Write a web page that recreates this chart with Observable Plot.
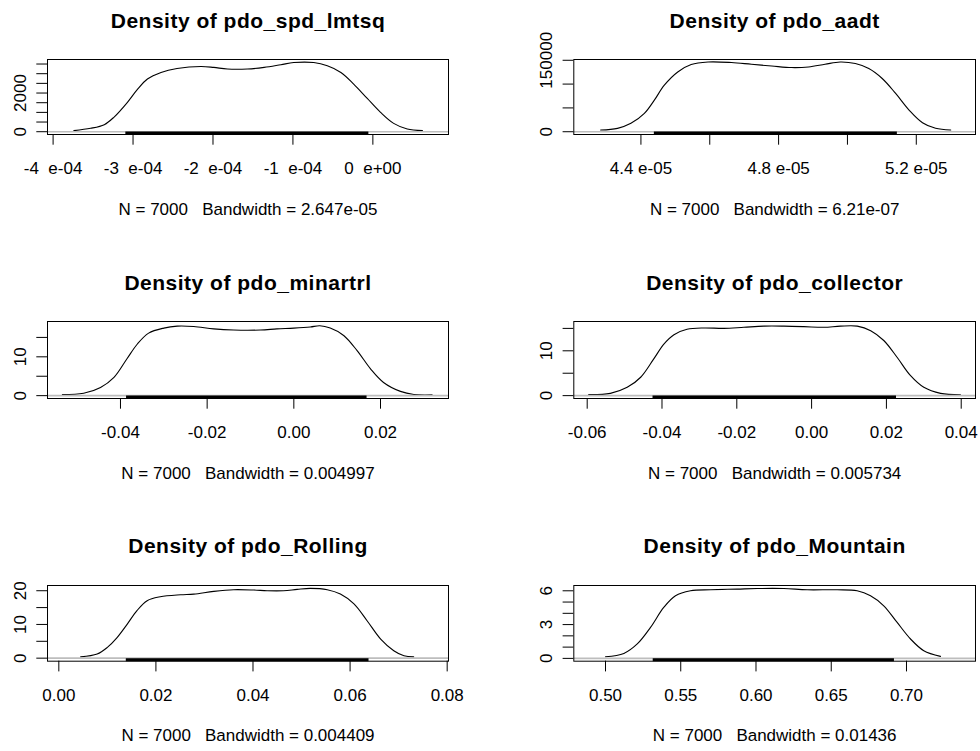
<!DOCTYPE html>
<html>
<head>
<meta charset="utf-8">
<script src="https://cdn.jsdelivr.net/npm/d3@7"></script>
<script src="https://cdn.jsdelivr.net/npm/@observablehq/plot@0.6"></script>
<style>
  html, body { margin: 0; padding: 0; background: #fff; overflow: hidden; }
  #root { position: relative; width: 980px; height: 751px; }
  #root > div { position: absolute; }
  svg text { white-space: pre; }
  svg g[font-weight="bold"] text { letter-spacing: 0.5px; }
</style>
</head>
<body>
<div id="root"></div>
<script>
// ---------- Data ----------
const titles = [
  "Density of pdo_spd_lmtsq", "Density of pdo_aadt",
  "Density of pdo_minartrl", "Density of pdo_collector",
  "Density of pdo_Rolling", "Density of pdo_Mountain"
];
const subtitles = [
  "N = 7000   Bandwidth = 2.647e-05", "N = 7000   Bandwidth = 6.21e-07",
  "N = 7000   Bandwidth = 0.004997", "N = 7000   Bandwidth = 0.005734",
  "N = 7000   Bandwidth = 0.004409", "N = 7000   Bandwidth = 0.01436"
];

// pdo_spd_lmtsq
const spdX = [-3.74e-4, -3.53e-4, -3.36e-4, -3.24e-4, -3.07e-4, -2.95e-4, -2.82e-4, -2.65e-4, -2.45e-4, -2.15e-4, -1.99e-4, -1.82e-4, -1.57e-4, -1.36e-4, -1.15e-4, -0.99e-4, -0.74e-4, -0.57e-4, -0.40e-4, -0.24e-4, -0.07e-4, 0.096e-4, 0.26e-4, 0.43e-4, 0.62e-4];
const spdY = [55, 175, 365, 745, 1520, 2160, 2725, 3065, 3270, 3375, 3325, 3240, 3240, 3325, 3465, 3575, 3575, 3410, 3065, 2465, 1720, 1000, 430, 140, 55];
const spdRug = [-3.09e-4, -0.05e-4];
const spdXTicks = [-4e-4, -3e-4, -2e-4, -1e-4, 0];
const spdXLabels = ["-4  e-04", "-3  e-04", "-2  e-04", "-1  e-04", "0  e+00"];
const spdYTicks = [0, 500, 1000, 1500, 2000, 2500, 3000, 3500];
const spdYLabels = [0, 2000];

// pdo_aadt
const aadtX = [4.283e-5, 4.332e-5, 4.371e-5, 4.41e-5, 4.439e-5, 4.468e-5, 4.507e-5, 4.546e-5, 4.595e-5, 4.663e-5, 4.721e-5, 4.78e-5, 4.838e-5, 4.887e-5, 4.935e-5, 4.979e-5, 5.023e-5, 5.062e-5, 5.101e-5, 5.14e-5, 5.179e-5, 5.218e-5, 5.256e-5, 5.3e-5];
const aadtY = [3600, 7100, 17600, 38500, 66300, 97700, 125500, 141000, 146400, 145200, 141600, 138000, 134700, 136000, 141600, 146400, 143100, 132600, 111700, 80300, 45400, 18800, 7100, 3600];
const aadtRug = [4.439e-5, 5.145e-5];
const aadtXTicks = [4.4e-5, 4.6e-5, 4.8e-5, 5.0e-5, 5.2e-5];
const aadtXLabels = ["4.4 e-05", "", "4.8 e-05", "", "5.2 e-05"];
const aadtYTicks = [0, 50000, 100000, 150000];
const aadtYLabels = [0, 150000];

// pdo_minartrl
const minX = [-0.0534, -0.0485, -0.0446, -0.0415, -0.0385, -0.0361, -0.0335, -0.0300, -0.0269, -0.0231, -0.0185, -0.0139, -0.0077, -0.0039, 0.0000, 0.0038, 0.0060, 0.0084, 0.0115, 0.0146, 0.0177, 0.0207, 0.0246, 0.0277, 0.0319];
const minY = [0.26, 0.6, 2.1, 4.7, 9.5, 13.3, 16.1, 17.4, 17.9, 17.8, 17.2, 16.9, 16.9, 17.2, 17.4, 17.7, 18.0, 17.4, 15.5, 11.6, 6.9, 3.4, 1.1, 0.3, 0.2];
const minRug = [-0.0386, 0.0169];
const minXTicks = [-0.04, -0.02, 0, 0.02];
const minXLabels = ["-0.04", "-0.02", "0.00", "0.02"];
const minYTicks = [0, 5, 10, 15];
const minYLabels = [0, 10];

// pdo_collector
const colX = [-0.0596, -0.0538, -0.0493, -0.0457, -0.0422, -0.0395, -0.0368, -0.0333, -0.0288, -0.0235, -0.0181, -0.0128, -0.0074, -0.0021, 0.0033, 0.0077, 0.0122, 0.0158, 0.0193, 0.0229, 0.0264, 0.0300, 0.0345, 0.0398];
const colY = [0.22, 0.5, 1.85, 4.1, 8.2, 11.5, 13.6, 14.8, 15.1, 15.0, 15.25, 15.5, 15.5, 15.4, 15.25, 15.5, 15.5, 14.5, 12.3, 8.5, 4.5, 1.85, 0.5, 0.2];
const colRug = [-0.0424, 0.0227];
const colXTicks = [-0.06, -0.04, -0.02, 0, 0.02, 0.04];
const colXLabels = ["-0.06", "-0.04", "-0.02", "0.00", "0.02", "0.04"];
const colYTicks = [0, 5, 10, 15];
const colYLabels = [0, 10];

// pdo_Rolling
const rolX = [0.0045, 0.0079, 0.0100, 0.0120, 0.0141, 0.0161, 0.0182, 0.0209, 0.0251, 0.0278, 0.0319, 0.0360, 0.0402, 0.0429, 0.0463, 0.0491, 0.0518, 0.0553, 0.0580, 0.0608, 0.0635, 0.0663, 0.0690, 0.0711, 0.0731];
const rolY = [0.39, 1.2, 3.2, 6.1, 10.1, 14.1, 17.05, 18.2, 18.8, 19.0, 19.8, 20.3, 20.2, 20.0, 20.0, 20.4, 20.7, 20.3, 19.0, 16.1, 11.1, 5.65, 2.2, 0.7, 0.39];
const rolRug = [0.0139, 0.0639];
const rolXTicks = [0, 0.02, 0.04, 0.06, 0.08];
const rolXLabels = ["0.00", "0.02", "0.04", "0.06", "0.08"];
const rolYTicks = [0, 5, 10, 15, 20];
const rolYLabels = [0, 10, 20];

// pdo_Mountain
const mtnX = [0.5000, 0.5122, 0.5211, 0.5299, 0.5387, 0.5465, 0.5565, 0.5698, 0.5875, 0.6008, 0.6185, 0.6340, 0.6540, 0.6672, 0.6761, 0.6849, 0.6938, 0.7027, 0.7115, 0.7226];
const mtnY = [0.15, 0.44, 1.28, 2.75, 4.52, 5.56, 6.0, 6.09, 6.15, 6.2, 6.2, 6.09, 6.09, 6.0, 5.56, 4.67, 3.19, 1.72, 0.68, 0.18];
const mtnRug = [0.5317, 0.692];
const mtnXTicks = [0.50, 0.55, 0.60, 0.65, 0.70];
const mtnXLabels = ["0.50", "0.55", "0.60", "0.65", "0.70"];
const mtnYTicks = [0, 1, 2, 3, 4, 5, 6];
const mtnYLabels = [0, 3, 6];

// ---------- Layout ----------
const FONT = "'Liberation Sans', Arial, Helvetica, sans-serif";
const panels = [
  {xs: spdX, ys: spdY, rug: spdRug, xTicks: spdXTicks, xLabels: spdXLabels, yTicks: spdYTicks, yLabels: spdYLabels,
   xDomain: [-4.07e-4, 0.946e-4], yDomain: [-144, 3734], left: 0, boxTop: 59, boxH: 75, ml: 47, mr: 42},
  {xs: aadtX, ys: aadtY, rug: aadtRug, xTicks: aadtXTicks, xLabels: aadtXLabels, yTicks: aadtYTicks, yLabels: aadtYLabels,
   xDomain: [4.205e-5, 5.372e-5], yDomain: [-5832, 151632], left: 490, boxTop: 59, boxH: 75, ml: 83.3, mr: 5},
  {xs: minX, ys: minY, rug: minRug, xTicks: minXTicks, xLabels: minXLabels, yTicks: minYTicks, yLabels: minYLabels,
   xDomain: [-0.05684, 0.03569], yDomain: [-0.735, 19.1], left: 0, boxTop: 320.7, boxH: 77, ml: 47, mr: 42},
  {xs: colX, ys: colY, rug: colRug, xTicks: colXTicks, xLabels: colXLabels, yTicks: colYTicks, yLabels: colYLabels,
   xDomain: [-0.06358, 0.04382], yDomain: [-0.64, 16.54], left: 490, boxTop: 320.7, boxH: 77, ml: 83.3, mr: 5},
  {xs: rolX, ys: rolY, rug: rolRug, xTicks: rolXTicks, xLabels: rolXLabels, yTicks: rolYTicks, yLabels: rolYLabels,
   xDomain: [-0.00233, 0.08027], yDomain: [-0.9, 21.55], left: 0, boxTop: 585, boxH: 75.7, ml: 47, mr: 42},
  {xs: mtnX, ys: mtnY, rug: mtnRug, xTicks: mtnXTicks, xLabels: mtnXLabels, yTicks: mtnYTicks, yLabels: mtnYLabels,
   xDomain: [0.47894, 0.74585], yDomain: [-0.25, 6.47], left: 490, boxTop: 585, boxH: 75.7, ml: 83.3, mr: 5}
];

const MT = 59, MB = 90;
const root = document.getElementById("root");

panels.forEach((p, k) => {
  const pts = p.xs.map((x, i) => ({x, y: p.ys[i]}));
  const labelOf = new Map(p.xTicks.map((t, i) => [t, p.xLabels[i]]));
  const chart = Plot.plot({
    width: 490,
    height: MT + p.boxH + MB,
    marginLeft: p.ml, marginRight: p.mr, marginTop: MT, marginBottom: MB,
    x: {domain: p.xDomain, axis: null, label: null},
    y: {domain: p.yDomain, axis: null, label: null},
    style: {fontFamily: FONT, fontSize: "17px", color: "#000", background: "transparent", overflow: "visible"},
    marks: [
      Plot.line(pts, {x: "x", y: "y", stroke: "#000", strokeWidth: 1.1, curve: "catmull-rom"}),
      Plot.ruleY([0], {stroke: "#bdbdbd", strokeWidth: 1.6}),
      Plot.ruleY([p.rug], {x1: d => d[0], x2: d => d[1], y: p.yDomain[0], dy: -1.5, stroke: "#000", strokeWidth: 3}),
      Plot.frame({stroke: "#000"}),
      Plot.axisX(p.xTicks, {tickSize: 10.7, tickPadding: 17, tickFormat: d => labelOf.get(d), label: null, fontSize: 17}),
      Plot.axisY(p.yTicks, {tickSize: 10.7, tickFormat: () => "", label: null}),
      Plot.text(p.yLabels, {y: d => d, text: d => String(d), frameAnchor: "left", rotate: -90, dx: -21.7,
        textAnchor: "middle", lineAnchor: "bottom", fontSize: 17, fill: "#000"}),
      Plot.text([titles[k]], {text: d => d, frameAnchor: "top", dy: -32, lineAnchor: "bottom",
        fontWeight: "bold", fontSize: 21, fill: "#000"}),
      Plot.text([subtitles[k]], {text: d => d, frameAnchor: "bottom", dy: 80, lineAnchor: "bottom",
        fontSize: 17, fill: "#000"})
    ]
  });
  const holder = document.createElement("div");
  holder.style.left = p.left + "px";
  holder.style.top = (p.boxTop - MT) + "px";
  holder.appendChild(chart);
  root.appendChild(holder);
});
</script>
</body>
</html>
